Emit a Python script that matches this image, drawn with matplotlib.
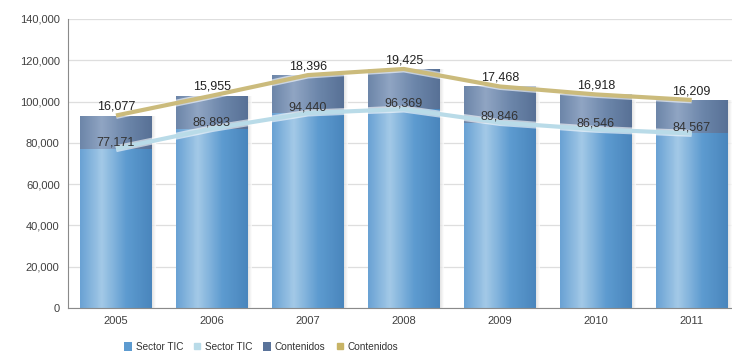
import numpy as np
import matplotlib
matplotlib.use("Agg")
import matplotlib.pyplot as plt
from matplotlib.colors import LinearSegmentedColormap
from matplotlib.patches import Patch
from matplotlib.lines import Line2D

plt.rcParams['font.family'] = ['Liberation Sans', 'DejaVu Sans']

years = ['2005', '2006', '2007', '2008', '2009', '2010', '2011']
sector_tic = [77171, 86893, 94440, 96369, 89846, 86546, 84567]
contenidos = [16077, 15955, 18396, 19425, 17468, 16918, 16209]
yticks = [0, 20000, 40000, 60000, 80000, 100000, 120000, 140000]

x = np.arange(len(years))
totales = np.array(sector_tic) + np.array(contenidos)
ancho = 0.75

# gradientes horizontales para dar volumen a las barras
cmap_tic = LinearSegmentedColormap.from_list(
    'tic', [(0, '#6aa2d4'), (0.3, '#a3c9e7'), (0.65, '#5d9bd0'), (1, '#4a86bd')])
cmap_cont = LinearSegmentedColormap.from_list(
    'cont', [(0, '#6d86a9'), (0.3, '#90a5c3'), (0.65, '#6c86aa'), (1, '#587196')])
grad = np.linspace(0, 1, 64).reshape(1, -1)
cmap_sombra = LinearSegmentedColormap.from_list('sombra', ['#b8b8b8', '#ffffff'])

fig = plt.figure(figsize=(7.32, 3.53), dpi=100)
ax = fig.add_axes([68 / 732, 1 - 308 / 353, 1 - 68 / 732, 289 / 353])

# sombra de las barras (difuminada hacia la derecha)
sombras = ax.bar(x + ancho / 2, totales, width=0.08, color='none', zorder=1)
for r in sombras:
    x0 = r.get_x()
    im = ax.imshow(grad, cmap=cmap_sombra, aspect='auto', zorder=1, alpha=0.8,
                   extent=[x0, x0 + r.get_width(), 0, r.get_height()])
    im.set_clip_path(r)

b1 = ax.bar(x, sector_tic, width=ancho, color='none', zorder=2)
b2 = ax.bar(x, contenidos, width=ancho, bottom=sector_tic, color='none', zorder=2)

for barras, cmap in ((b1, cmap_tic), (b2, cmap_cont)):
    for r in barras:
        x0, y0 = r.get_x(), r.get_y()
        im = ax.imshow(grad, cmap=cmap, aspect='auto', zorder=2,
                       extent=[x0, x0 + r.get_width(), y0, y0 + r.get_height()])
        im.set_clip_path(r)

# lineas
ax.plot(x, sector_tic, color='white', lw=5, alpha=0.6, zorder=3, solid_capstyle='butt')
ax.plot(x, sector_tic, color='#b9dbe8', lw=3, zorder=4, solid_capstyle='butt')
ax.plot(x, totales, color='white', lw=5, alpha=0.6, zorder=3, solid_capstyle='butt')
ax.plot(x, totales, color='#cbbb7c', lw=3, zorder=4, solid_capstyle='butt')

for i in range(len(years)):
    ax.annotate(f'{sector_tic[i]:,}', (x[i], sector_tic[i]), xytext=(0, 0),
                textcoords='offset points', ha='center', va='bottom',
                fontsize=9, color='#333333', zorder=5)
    ax.annotate(f'{contenidos[i]:,}', (x[i], totales[i]), xytext=(0, 2),
                textcoords='offset points', ha='center', va='bottom',
                fontsize=9, color='#222222', zorder=5)

ax.set_xlim(-0.5, 6.42)
ax.set_ylim(0, 140000)
ax.set_yticks(yticks)
ax.set_yticklabels([f'{v:,}' for v in yticks])
ax.set_xticks(x)
ax.set_xticklabels(years)
ax.tick_params(axis='both', length=0, labelsize=8, colors='#404040', pad=6)
ax.grid(axis='y', color='#dedede', lw=0.9, zorder=0)
ax.set_axisbelow(True)
for s in ('top', 'right'):
    ax.spines[s].set_visible(False)
ax.spines['left'].set_color('#8a8a8a')
ax.spines['bottom'].set_color('#8a8a8a')

handles = [
    Patch(facecolor='#5d9bd0', edgecolor='none'),
    Line2D([], [], color='#b9dbe8', marker='s', ls='none', markersize=4),
    Patch(facecolor='#5a739a', edgecolor='none'),
    Line2D([], [], color='#c8b466', marker='s', ls='none', markersize=4),
]
fig.legend(handles, ['Sector TIC', 'Sector TIC', 'Contenidos', 'Contenidos'],
           loc='center', bbox_to_anchor=(261 / 732, 1 - 347 / 353), ncol=4,
           frameon=False, fontsize=7.2, handlelength=0.8, handleheight=0.9,
           handletextpad=0.4, columnspacing=1.0, labelcolor='#333333')

fig.savefig('out.png', dpi=100)
